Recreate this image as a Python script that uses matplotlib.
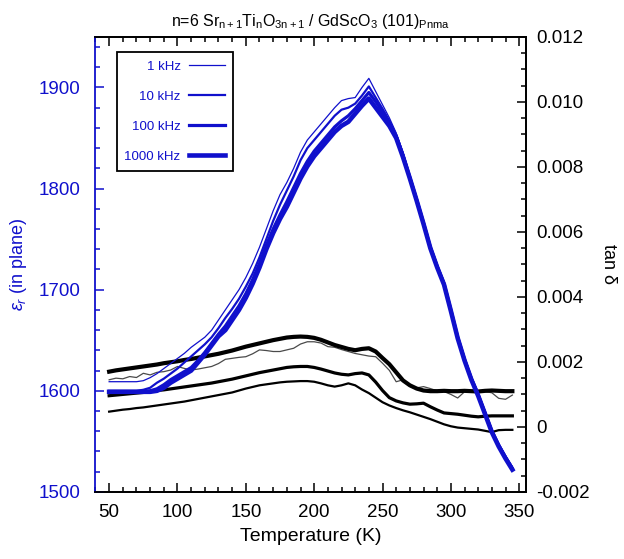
import numpy as np
import matplotlib
matplotlib.use("Agg")
import matplotlib.pyplot as plt
from matplotlib.ticker import MultipleLocator

plt.rcParams['font.family'] = ['Liberation Sans', 'DejaVu Sans']
plt.rcParams['mathtext.fontset'] = 'custom'
plt.rcParams['mathtext.rm'] = 'Liberation Sans'
plt.rcParams['mathtext.it'] = 'Liberation Sans:italic'

# temperature grid (K)
temp = np.arange(50, 350, 5)

# dielectric constant, in plane (left axis)
eps_1k = [1609, 1609, 1609, 1609, 1609, 1610, 1613, 1617, 1622, 1627,
          1632, 1637, 1643, 1648, 1653, 1660, 1670, 1680, 1690, 1700,
          1712, 1726, 1742, 1760, 1778, 1794, 1806, 1820, 1836, 1848,
          1856, 1864, 1872, 1880, 1887, 1889, 1890, 1900, 1909, 1896,
          1883, 1870, 1855, 1836, 1813, 1791, 1768, 1744, 1725, 1708,
          1682, 1655, 1633, 1614, 1598, 1580, 1562, 1548, 1536, 1525]
eps_10k = [1600, 1600, 1600, 1600, 1600, 1601, 1603, 1608, 1612, 1617,
           1622, 1628, 1634, 1640, 1646, 1653, 1662, 1672, 1681, 1691,
           1703, 1716, 1732, 1750, 1768, 1784, 1798, 1812, 1828, 1840,
           1848, 1856, 1864, 1872, 1878, 1880, 1884, 1892, 1901, 1890,
           1879, 1867, 1853, 1834, 1812, 1790, 1767, 1743, 1724, 1707,
           1681, 1654, 1632, 1613, 1597, 1579, 1561, 1547, 1535, 1524]
eps_100k = [1599, 1599, 1599, 1599, 1599, 1599, 1600, 1602, 1606, 1611,
            1615, 1619, 1623, 1630, 1638, 1647, 1656, 1664, 1674, 1684,
            1696, 1710, 1726, 1744, 1760, 1774, 1787, 1801, 1815, 1827,
            1837, 1845, 1853, 1861, 1867, 1872, 1879, 1887, 1895, 1886,
            1876, 1865, 1852, 1833, 1811, 1789, 1766, 1742, 1723, 1706,
            1680, 1653, 1631, 1612, 1596, 1578, 1560, 1546, 1534, 1523]
eps_1000k = [1599, 1599, 1599, 1599, 1599, 1599, 1599, 1600, 1603, 1608,
             1612, 1616, 1620, 1628, 1636, 1645, 1654, 1660, 1670, 1680,
             1692, 1706, 1722, 1740, 1756, 1770, 1782, 1796, 1810, 1822,
             1832, 1840, 1848, 1856, 1862, 1866, 1874, 1882, 1889, 1880,
             1871, 1862, 1850, 1831, 1810, 1788, 1765, 1741, 1722, 1705,
             1679, 1652, 1630, 1611, 1595, 1577, 1559, 1545, 1533, 1522]

# loss tangent (right axis)
tan_1k = [0.00145, 0.00150, 0.00148, 0.00155, 0.00152, 0.00165, 0.00160, 0.00168, 0.00170, 0.00175,
          0.00186, 0.00180, 0.00175, 0.00178, 0.00182, 0.00186, 0.00195, 0.00208, 0.00211, 0.00214,
          0.00216, 0.00225, 0.00237, 0.00235, 0.00232, 0.00232, 0.00237, 0.00242, 0.00255, 0.00262,
          0.00262, 0.00258, 0.00247, 0.00245, 0.00238, 0.00232, 0.00226, 0.00222, 0.00218, 0.00216,
          0.00196, 0.00174, 0.00139, 0.00145, 0.00130, 0.00120, 0.00124, 0.00118, 0.00111, 0.00109,
          0.00100, 0.00089, 0.00108, 0.00109, 0.00110, 0.00109, 0.00105, 0.00088, 0.00085, 0.00098]
tan_10k = [0.00047, 0.00050, 0.00053, 0.00055, 0.00058, 0.00060, 0.00063, 0.00066, 0.00069, 0.00072,
           0.00075, 0.00078, 0.00082, 0.00086, 0.00090, 0.00094, 0.00098, 0.00102, 0.00106, 0.00112,
           0.00118, 0.00123, 0.00128, 0.00131, 0.00134, 0.00137, 0.00139, 0.00140, 0.00141, 0.00141,
           0.00139, 0.00134, 0.00128, 0.00124, 0.00128, 0.00134, 0.00128, 0.00115, 0.00104, 0.00090,
           0.00076, 0.00066, 0.00058, 0.00051, 0.00045, 0.00038, 0.00031, 0.00024, 0.00016, 0.00008,
           0.00002, -0.00002, -0.00004, -0.00006, -0.00008, -0.00012, -0.00016, -0.00010, -0.00009, -0.00009]
tan_100k = [0.00096, 0.00098, 0.00100, 0.00102, 0.00104, 0.00106, 0.00109, 0.00112, 0.00114, 0.00117,
            0.00120, 0.00123, 0.00126, 0.00129, 0.00132, 0.00135, 0.00139, 0.00143, 0.00147, 0.00152,
            0.00157, 0.00162, 0.00167, 0.00171, 0.00175, 0.00179, 0.00183, 0.00185, 0.00186, 0.00186,
            0.00183, 0.00178, 0.00172, 0.00166, 0.00162, 0.00160, 0.00164, 0.00166, 0.00160, 0.00138,
            0.00112, 0.00090, 0.00080, 0.00074, 0.00070, 0.00071, 0.00073, 0.00062, 0.00052, 0.00043,
            0.00041, 0.00039, 0.00036, 0.00033, 0.00031, 0.00033, 0.00034, 0.00034, 0.00034, 0.00034]
tan_1000k = [0.00170, 0.00174, 0.00177, 0.00180, 0.00183, 0.00186, 0.00189, 0.00192, 0.00196, 0.00199,
             0.00202, 0.00206, 0.00209, 0.00213, 0.00217, 0.00221, 0.00225, 0.00230, 0.00235, 0.00241,
             0.00247, 0.00252, 0.00257, 0.00262, 0.00267, 0.00271, 0.00275, 0.00277, 0.00278, 0.00277,
             0.00274, 0.00268, 0.00260, 0.00252, 0.00246, 0.00240, 0.00236, 0.00240, 0.00242, 0.00232,
             0.00212, 0.00193, 0.00168, 0.00143, 0.00128, 0.00118, 0.00112, 0.00110, 0.00110, 0.00111,
             0.00110, 0.00110, 0.00111, 0.00110, 0.00109, 0.00111, 0.00112, 0.00111, 0.00110, 0.00110]

labels = ['1 kHz', '10 kHz', '100 kHz', '1000 kHz']
blue = '#1010cc'

fig = plt.figure(figsize=(6.24, 5.59), dpi=100)
ax = fig.add_axes([0.153, 0.12, 0.69, 0.814])
ax2 = ax.twinx()
ax.set_zorder(ax2.get_zorder() + 1)
ax.patch.set_visible(False)

# black tan delta curves
ax2.plot(temp, tan_1k, color='#4a4a4a', lw=0.9)
ax2.plot(temp, tan_10k, color='black', lw=1.6)
ax2.plot(temp, tan_100k, color='black', lw=2.3)
ax2.plot(temp, tan_1000k, color='black', lw=3.0)

# blue permittivity curves
widths = [0.9, 1.6, 2.3, 3.3]
for eps, w, lab in zip([eps_1k, eps_10k, eps_100k, eps_1000k], widths, labels):
    ax.plot(temp, eps, color=blue, lw=w, label=lab)

ax.set_xlim(40, 355)
ax.set_ylim(1500, 1950)
ax2.set_ylim(-0.002, 0.012)

ax.xaxis.set_major_locator(MultipleLocator(50))
ax.xaxis.set_minor_locator(MultipleLocator(10))
ax.yaxis.set_major_locator(MultipleLocator(100))
ax.yaxis.set_minor_locator(MultipleLocator(20))
ax2.yaxis.set_minor_locator(MultipleLocator(0.0005))
ax2.set_yticks([-0.002, 0, 0.002, 0.004, 0.006, 0.008, 0.010, 0.012])
ax2.set_yticklabels(['-0.002', '0', '0.002', '0.004', '0.006', '0.008', '0.010', '0.012'])

ax.tick_params(axis='x', which='both', direction='in', top=True, labelsize=13.5, width=1.1, pad=9)
ax.tick_params(axis='x', which='major', length=6.5)
ax.tick_params(axis='x', which='minor', length=3.5)
ax.tick_params(axis='y', which='both', direction='in', colors=blue, labelsize=13.5, width=1.1, pad=11)
ax.tick_params(axis='y', which='major', length=6.5)
ax.tick_params(axis='y', which='minor', length=3.5)
ax2.tick_params(axis='y', which='both', direction='in', labelsize=13.5, width=1.1, pad=7)
ax2.tick_params(axis='y', which='major', length=6.5)
ax2.tick_params(axis='y', which='minor', length=3.5)

for a in (ax, ax2):
    for s in a.spines.values():
        s.set_linewidth(1.3)
ax.spines['left'].set_color(blue)
ax2.spines['left'].set_visible(False)

ax.set_xlabel('Temperature (K)', fontsize=14, labelpad=5)
ax.set_ylabel(r'$\varepsilon_r$ (in plane)', fontsize=13, color=blue, labelpad=7)
ax2.set_ylabel('tan δ', fontsize=13, rotation=270, labelpad=20)
ax.set_title(r'n=6 Sr$_\mathregular{n+1}$Ti$_\mathregular{n}$O$_\mathregular{3n+1}$ / GdScO$_\mathregular{3}$ (101)$_\mathregular{Pnma}$',
             fontsize=11.5, pad=8)

leg = ax.legend(loc='upper left', bbox_to_anchor=(0.049, 0.966), markerfirst=False,
                fontsize=9.5, handlelength=2.8, labelspacing=1.35, fancybox=False,
                edgecolor='black', framealpha=1, borderpad=0.6, handletextpad=0.6,
                borderaxespad=0)
leg.get_frame().set_linewidth(1.3)
for t in leg.get_texts():
    t.set_color(blue)

fig.savefig('out.png', dpi=100)
